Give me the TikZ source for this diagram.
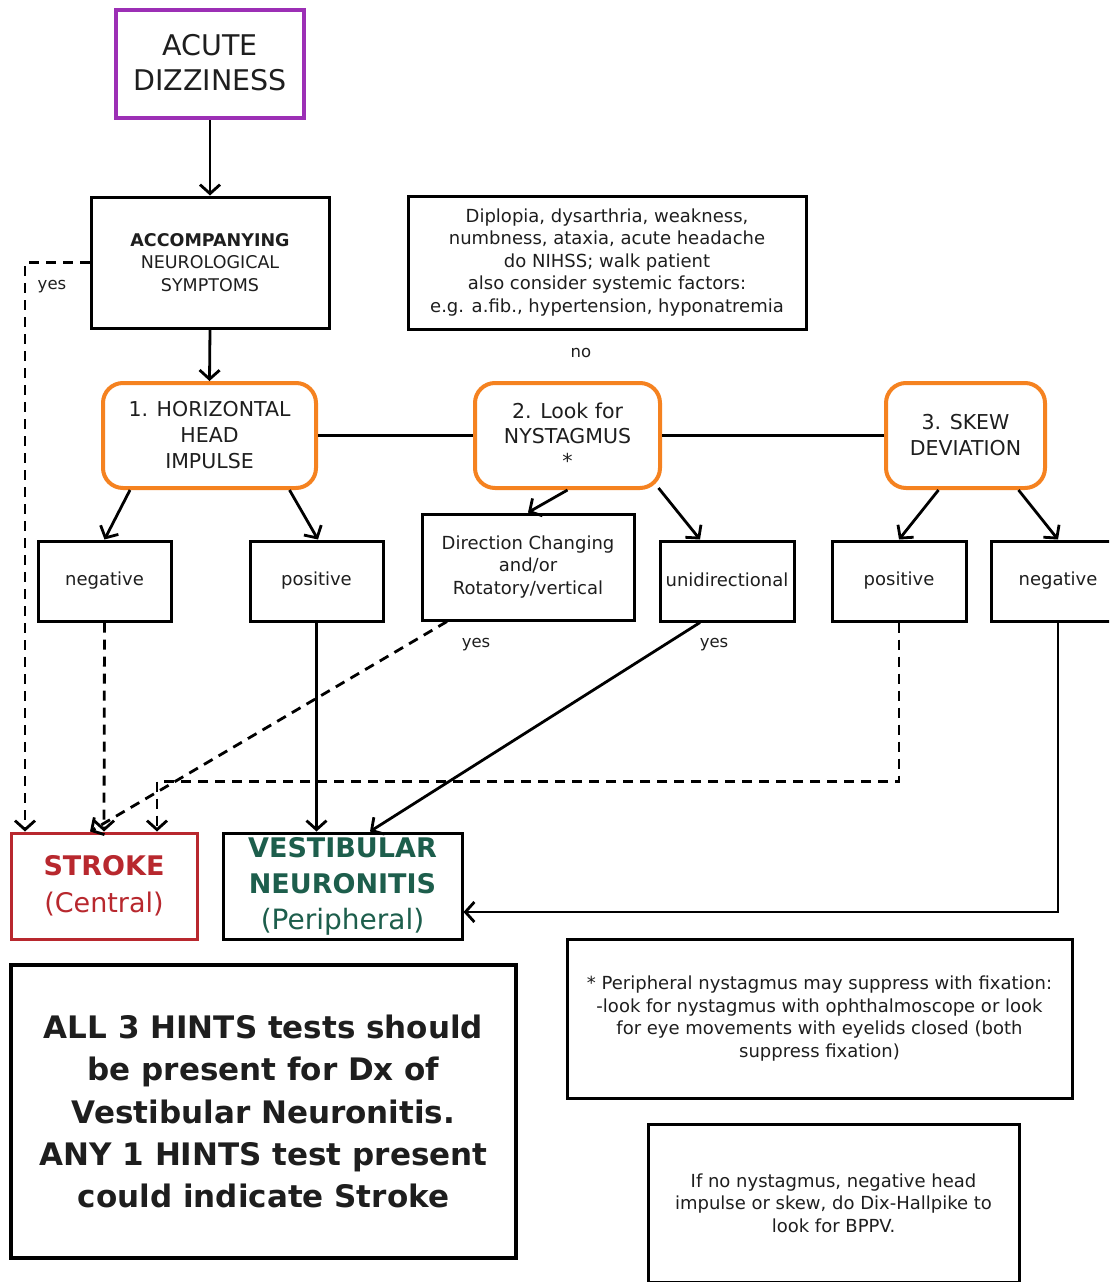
\documentclass[tikz,border=0pt]{standalone}
\usepackage{fontspec}
\setmainfont{DejaVu Sans}
\usetikzlibrary{arrows.meta,calc}
\definecolor{cpurple}{RGB}{156,47,181}
\definecolor{corange}{RGB}{245,130,32}
\definecolor{cred}{RGB}{184,40,46}
\definecolor{cgreen}{RGB}{29,94,76}
\definecolor{ctext}{RGB}{30,30,30}
\newcommand{\fs}[2]{\fontsize{#1}{#2}\selectfont}
\begin{document}
\begin{tikzpicture}[x=1pt,y=-1pt,
  bx/.style={draw=black,line width=3pt,rectangle,inner sep=0pt,align=center,text=ctext},
  obx/.style={draw=corange,line width=4pt,rectangle,rounded corners=20pt,inner sep=0pt,align=center,text=ctext},
  arr/.style={line width=2.8pt,-{Straight Barb[length=9pt,width=20pt]}},
  ln/.style={line width=2.8pt},
  dsh/.style={dash pattern=on 10pt off 7pt},
  lbl/.style={inner sep=0pt,text=ctext,font=\fs{16.5}{20}}
]
\clip (0,0) rectangle (1109,1282);
\fill[white] (0,0) rectangle (1109,1282);

\node[bx,draw=cpurple,line width=4pt,minimum width=188,minimum height=108,font=\fs{28.5}{35}] (acute) at (210,64) {\raisebox{3pt}{ACUTE}\\\raisebox{3pt}{DIZZINESS}};
\node[bx,minimum width=238,minimum height=131,font=\fs{17.5}{22.5}] (accomp) at (210,262.5) {\textbf{ACCOMPANYING}\\NEUROLOGICAL\\SYMPTOMS};
\node[bx,minimum width=398,minimum height=133,font=\fs{18}{22.5}] (info) at (607,262.5) {Diplopia, dysarthria, weakness,\\numbness, ataxia, acute headache\\do NIHSS; walk patient\\also consider systemic factors:\\e.g. a.fib., hypertension, hyponatremia};
\node[lbl] (no) at (581,353) {no};

\node[obx,minimum width=213,minimum height=105,font=\fs{20.5}{26}] (hhi) at (209.5,435.5) {1. HORIZONTAL\\HEAD\\IMPULSE};
\node[obx,minimum width=185,minimum height=105,font=\fs{20.5}{25}] (nyst) at (567.5,435.5) {2. Look for\\NYSTAGMUS\\*};
\node[obx,minimum width=159,minimum height=105,font=\fs{20.5}{26}] (skew) at (965.5,435.5) {3. SKEW\\DEVIATION};

\node[bx,minimum width=133,minimum height=80,font=\fs{18}{22.5}] (neg1) at (104.5,581) {negative};
\node[bx,minimum width=133,minimum height=80,font=\fs{18}{22.5}] (pos1) at (316.5,581) {positive};
\node[bx,minimum width=212,minimum height=106,font=\fs{18}{22.5}] (dirch) at (528,567) {Direction Changing\\and/or\\Rotatory/vertical};
\node[bx,minimum width=134,minimum height=80,font=\fs{18}{22.5}] (unid) at (727,581) {\raisebox{2pt}{unidirectional}};
\node[bx,minimum width=134,minimum height=80,font=\fs{18}{22.5}] (pos2) at (899,581) {positive};
\node[bx,minimum width=134,minimum height=80,font=\fs{18}{22.5}] (neg2) at (1058,581) {negative};

\node[bx,draw=cred,minimum width=186,minimum height=106,text=cred,font=\fs{27}{37}] (stroke) at (104,886) {\textbf{STROKE}\\(Central)};
\node[bx,minimum width=239,minimum height=106,text=cgreen,font=\fs{27}{36}] (vest) at (342.5,886) {\textbf{VESTIBULAR}\\\textbf{NEURONITIS}\\{\fs{28}{36}(Peripheral)}};

\node[bx,line width=4pt,minimum width=505,minimum height=293,font=\bfseries\fs{31}{42.3}] (hints) at (263.5,1111.5) {ALL 3 HINTS tests should\\be present for Dx of\\Vestibular Neuronitis.\\ANY 1 HINTS test present\\could indicate Stroke};
\node[bx,minimum width=505,minimum height=159,font=\fs{18}{22.5}] (note) at (819.5,1018.5) {* Peripheral nystagmus may suppress with fixation:\\-look for nystagmus with ophthalmoscope or look\\for eye movements with eyelids closed (both\\suppress fixation)};
\node[bx,minimum width=371,minimum height=158,font=\fs{18}{22.5}] (bppv) at (833.5,1203) {If no nystagmus, negative head\\impulse or skew, do Dix-Hallpike to\\look for BPPV.};

% connectors
\draw[arr] (acute.south) -- (accomp.north);
\draw[arr] (accomp.south) -- (hhi.north);
\draw[ln] (hhi.east) -- (nyst.west);
\draw[ln] (nyst.east) -- (skew.west);
\draw[arr] ([xshift=-79.5pt]hhi.south) -- (neg1.north);
\draw[arr] ([xshift=80pt]hhi.south) -- ([xshift=1.5pt]pos1.north);
\draw[arr] (nyst.south) -- (dirch.north);
\draw[arr] ([xshift=91pt,yshift=2pt]nyst.south) -- ([xshift=-27pt]unid.north);
\draw[arr] ([xshift=-27pt]skew.south) -- (pos2.north);
\draw[arr] ([xshift=53pt]skew.south) -- (neg2.north);

\draw[arr,dsh] (accomp.west) -| ([xshift=-79pt]stroke.north);
\node[lbl] (yes1) at (52,287) {yes};
\draw[arr,dsh] (neg1.south) -- (stroke.north);
\draw[arr] (pos1.south) -- (pos1.south |- vest.north);
\draw[arr,dsh] ([xshift=-81pt]dirch.south) -- ([xshift=-14pt]stroke.north);
\node[lbl] (yes2) at (476,645) {yes};
\draw[arr] ([xshift=-27pt]unid.south) -- ([xshift=27.5pt]vest.north);
\node[lbl] (yes3) at (714,645) {yes};
\draw[arr,dsh] (pos2.south) -- ++(0,159) -| ([xshift=53pt]stroke.north);
\draw[arr] (neg2.south) |- ([yshift=-26pt]vest.east);
\end{tikzpicture}
\end{document}
